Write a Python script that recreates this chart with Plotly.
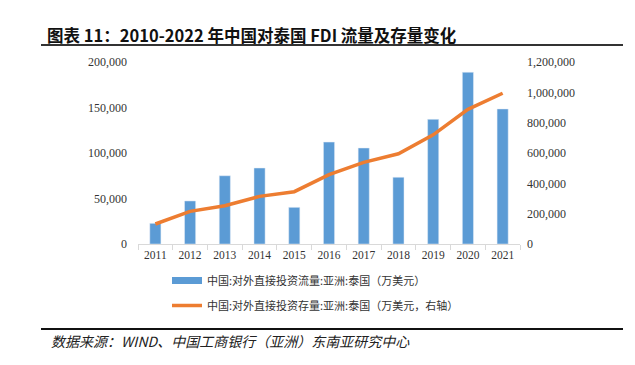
import plotly.graph_objects as go

years = ["2011", "2012", "2013", "2014", "2015", "2016", "2017", "2018", "2019", "2020", "2021"]
flow = [22700, 47300, 75000, 83500, 40300, 112000, 105500, 73300, 137000, 188700, 148400]
stock = [132000, 215000, 252000, 314000, 345000, 457000, 538000, 595000, 720000, 888000, 994000]

left_ticks = [0, 50000, 100000, 150000, 200000]
right_ticks = [0, 200000, 400000, 600000, 800000, 1000000, 1200000]

name_flow = "中国:对外直接投资流量:亚洲:泰国（万美元）"
name_stock = "中国:对外直接投资存量:亚洲:泰国（万美元，右轴）"
title_text = "图表 11：2010-2022 年中国对泰国 FDI 流量及存量变化"
source_text = "数据来源：WIND、中国工商银行（亚洲）东南亚研究中心"

W, H = 635, 365
L, R, T, B = 138, 520, 62, 244

def px(x):
    return (x - L) / (R - L)

def py(y):
    return (B - y) / (B - T)

serif = "Liberation Serif"
cjk = "Noto Sans CJK SC"
ytick_font = dict(family=serif, size=12, color="#333333")
xtick_font = dict(family=serif, size=11.5, color="#333333")

fig = go.Figure()
fig.add_trace(go.Bar(x=years, y=flow, name=name_flow, marker_color="#5B9BD5",
                     yaxis="y", showlegend=False, legendgroup="flow"))
# legend entry for the bars (wide swatch like the reference)
fig.add_trace(go.Scatter(x=[None], y=[None], name=name_flow, mode="lines",
                         line=dict(color="#5B9BD5", width=7), legendgroup="flow",
                         yaxis="y", legendrank=1))
fig.add_trace(go.Scatter(x=years, y=stock, name=name_stock, mode="lines",
                         line=dict(color="#ED7D31", width=3.5), yaxis="y2",
                         legendrank=2))

fig.update_layout(
    width=W, height=H,
    margin=dict(l=L, r=W - R, t=T, b=H - B),
    paper_bgcolor="white", plot_bgcolor="white",
    bargap=0.68,
    showlegend=True,
    legend=dict(x=px(167), y=py(266), xanchor="left", yanchor="top",
                font=dict(family=cjk, size=11, color="#333333"),
                tracegroupgap=6, itemwidth=30, bgcolor="rgba(0,0,0,0)"),
    xaxis=dict(type="category", showgrid=False, showline=True,
               linecolor="#D9D9D9", linewidth=1, ticks="outside",
               tickson="boundaries", ticklen=5, tickcolor="#D9D9D9",
               tickfont=xtick_font, range=[-0.5, 10.5]),
    yaxis=dict(range=[0, 200000], tickvals=left_ticks,
               ticktext=[f"{v:,}" for v in left_ticks], showgrid=False,
               showline=False, zeroline=False, ticks="", tickfont=ytick_font,
               ticklabelstandoff=10),
    yaxis2=dict(range=[0, 1200000], tickvals=right_ticks,
                ticktext=[f"{v:,}" for v in right_ticks], overlaying="y",
                side="right", showgrid=False, showline=False, zeroline=False,
                ticks="", tickfont=ytick_font, ticklabelstandoff=6),
    shapes=[
        dict(type="line", xref="paper", yref="paper", x0=px(41), x1=px(623),
             y0=py(45), y1=py(45), line=dict(color="#333333", width=2)),
        dict(type="line", xref="paper", yref="paper", x0=px(41), x1=px(623),
             y0=py(329), y1=py(329), line=dict(color="#111111", width=2)),
    ],
    annotations=[
        dict(text=f"<b>{title_text}</b>", xref="paper", yref="paper",
             x=px(45), y=py(35), xanchor="left", yanchor="middle",
             showarrow=False, font=dict(family=cjk, size=16.5, color="#111111")),
        dict(text=f"<i>{source_text}</i>", xref="paper", yref="paper",
             x=px(49), y=py(341), xanchor="left", yanchor="middle",
             showarrow=False, font=dict(family=cjk, size=14, color="#222222")),
    ],
)

fig.write_html("out.html", config={"displayModeBar": False},
               post_script="document.body.style.margin='0';")
